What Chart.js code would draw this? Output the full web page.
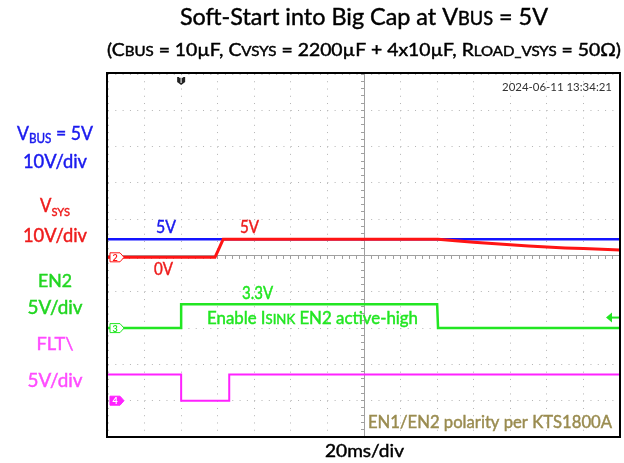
<!DOCTYPE html>
<html>
<head>
<meta charset="utf-8">
<script src="https://cdn.jsdelivr.net/npm/chart.js@4.4.1/dist/chart.umd.min.js"></script>
<style>
  html, body { margin: 0; padding: 0; background: #fff; }
  canvas { display: block; }
</style>
</head>
<body>
<canvas id="scope" width="624" height="463"></canvas>
<script>
// time in ms (20ms/div, 14 div across), levels in volts
var vbusTime = [0, 280];
var vbusVolt = [5, 5];

var vsysTime = [0, 58.5, 60.5, 63, 180.5, 190, 200, 210, 220, 230, 240, 250, 260, 270, 280];
var vsysVolt = [0, 0, 2.2, 5, 5, 4.55, 4.15, 3.8, 3.45, 3.15, 2.85, 2.6, 2.4, 2.2, 2.0];

var en2Time = [0, 40, 40, 180, 180.5, 280];
var en2Volt = [0, 0, 3.3, 3.3, 0, 0];

var fltTime = [0, 40, 40, 66.3, 66.3, 280];
var fltVolt = [3.6, 3.6, 0, 0, 3.6, 3.6];

var triggerTime = 40;
var triggerLevel = 1.45; // on EN2

var FONT = 'Lato, "Open Sans", sans-serif';

function points(t, v) {
    return t.map(function (x, i) { return { x: x, y: v[i] }; });
}

// channel axis: ground offset (div from bottom) and volts/div, 10 div tall
function chAxis(offset, perDiv) {
    return { type: 'linear', display: false, min: -offset * perDiv, max: (10 - offset) * perDiv };
}

function drawRuns(ctx, parts, x, y, size, color, width, align) {
    var total = 0;
    var widths = parts.map(function (p) {
        ctx.font = (size * (p[1] || 1)) + 'px ' + FONT;
        var w = ctx.measureText(p[0]).width;
        total += w;
        return w;
    });
    var sx = width ? width / total : 1;
    var left = align === 'center' ? x - total * sx / 2 : x;
    ctx.save();
    ctx.translate(left, y);
    ctx.scale(sx, 1);
    ctx.fillStyle = color;
    ctx.strokeStyle = color;
    ctx.lineWidth = size > 14 ? 0.45 : 0;
    ctx.textBaseline = 'alphabetic';
    var cx = 0;
    parts.forEach(function (p, i) {
        ctx.font = (size * (p[1] || 1)) + 'px ' + FONT;
        ctx.fillText(p[0], cx, p[2] || 0);
        if (size > 14) ctx.strokeText(p[0], cx, p[2] || 0);
        cx += widths[i];
    });
    ctx.restore();
}

var BLUE = '#1414ff', RED = '#ff1414', GREEN = '#22e622', PINK = '#ff22ff';

var texts = [
    // [parts, x, baseline, size, color, width, align]
    [[['Soft-Start into Big Cap at V'], ['BUS', 0.78], [' = 5V']], 180, 25, 24, '#000', 368],
    [[['(C'], ['BUS', 0.78], [' = 10µF, C'], ['VSYS', 0.78], [' = 2200µF + 4x10µF, R'], ['LOAD_VSYS', 0.78], [' = 50Ω)']], 107, 56, 18, '#000', 514],
    [[['V'], ['BUS', 0.66, 3], [' = 5V']], 55, 140, 19.5, '#1a1aee', 76, 'center'],
    [[['10V/div']], 55, 168, 18.5, '#1a1aee', 64, 'center'],
    [[['V'], ['SYS', 0.66, 4]], 55, 212, 18.5, '#ee1c1c', 30, 'center'],
    [[['10V/div']], 55, 242, 18.5, '#ee1c1c', 64, 'center'],
    [[['EN2']], 55, 287, 17.5, '#22d622', 34, 'center'],
    [[['5V/div']], 55, 314, 18.5, '#22d622', 55, 'center'],
    [[['FLT\\']], 55, 350, 17.5, '#ff4cff', 37, 'center'],
    [[['5V/div']], 55, 387, 18.5, '#ff4cff', 55, 'center'],
    [[['5V']], 156, 233, 17, '#1a1aee', 20],
    [[['5V']], 240, 233, 17, '#ee1c1c', 19],
    [[['0V']], 154, 275, 17, '#ee1c1c', 19],
    [[['3.3V']], 242, 299, 17, '#22e622', 31],
    [[['Enable I'], ['SINK', 0.78], [' EN2 active-high']], 207, 324, 17, '#22e622', 211],
    [[['EN1/EN2 polarity per KTS1800A']], 368, 428, 17, '#9a8c50', 244],
    [[['20ms/div']], 325, 457, 18, '#000', 79],
    [[['2024-06-11 13:34:21']], 502, 91, 11.5, '#333', 110]
];

function chMarker(ctx, y, label, stroke, fill, ink) {
    var x0 = 110, x1 = 120, x2 = 124, h = 4.5;
    ctx.beginPath();
    ctx.moveTo(x0, y - h);
    ctx.lineTo(x1, y - h);
    ctx.lineTo(x2, y);
    ctx.lineTo(x1, y + h);
    ctx.lineTo(x0, y + h);
    ctx.closePath();
    ctx.fillStyle = fill;
    ctx.fill();
    ctx.lineWidth = 1;
    ctx.strokeStyle = stroke;
    ctx.stroke();
    ctx.fillStyle = ink;
    ctx.font = 'bold 9px ' + FONT;
    ctx.textAlign = 'center';
    ctx.textBaseline = 'middle';
    ctx.fillText(label, 115, y + 0.5);
}

var decor = {
    id: 'decor',
    afterDatasetsDraw: function (chart) {
        var ctx = chart.ctx, a = chart.chartArea, s = chart.scales;
        ctx.save();
        // frame
        ctx.lineWidth = 2;
        ctx.strokeStyle = '#000';
        ctx.strokeRect(a.left - 1, a.top - 1, a.right - a.left + 1, a.bottom - a.top + 1);

        // channel ground markers
        chMarker(ctx, s.v2.getPixelForValue(0), '2', RED, '#fff', RED);
        chMarker(ctx, s.v3.getPixelForValue(0), '3', GREEN, '#fff', GREEN);
        chMarker(ctx, s.v4.getPixelForValue(0), '4', PINK, PINK, '#fff');

        // trigger position
        var tx = s.x.getPixelForValue(triggerTime);
        ctx.beginPath();
        ctx.moveTo(tx - 4, a.top + 3);
        ctx.lineTo(tx + 4, a.top + 3);
        ctx.lineTo(tx + 4, a.top + 8);
        ctx.lineTo(tx, a.top + 11);
        ctx.lineTo(tx - 4, a.top + 8);
        ctx.closePath();
        ctx.fillStyle = '#222';
        ctx.fill();
        ctx.fillStyle = '#fff';
        ctx.font = 'bold 7px ' + FONT;
        ctx.textAlign = 'center';
        ctx.textBaseline = 'middle';
        ctx.fillText('T', tx, a.top + 6.5);

        // trigger level arrow
        var ty = s.v3.getPixelForValue(triggerLevel);
        ctx.beginPath();
        ctx.moveTo(a.right - 14, ty);
        ctx.lineTo(a.right - 8, ty - 5);
        ctx.lineTo(a.right - 8, ty + 5);
        ctx.closePath();
        ctx.fillStyle = GREEN;
        ctx.fill();
        ctx.fillRect(a.right - 9, ty - 1, 8, 2);
        ctx.restore();

        ctx.save();
        texts.forEach(function (t) {
            drawRuns(ctx, t[0], t[1], t[2], t[3], t[4], t[5], t[6]);
        });
        ctx.restore();
    }
};

var ctx = document.getElementById('scope').getContext('2d');
var chart = new Chart(ctx, {
    type: 'line',
    data: {
        datasets: [{
            label: 'VSYS',
            data: points(vsysTime, vsysVolt),
            yAxisID: 'v2',
            borderColor: RED,
            borderWidth: 3,
            order: 0
        }, {
            label: 'VBUS',
            data: points(vbusTime, vbusVolt),
            yAxisID: 'v1',
            borderColor: BLUE,
            borderWidth: 2.5,
            order: 1
        }, {
            label: 'EN2',
            data: points(en2Time, en2Volt),
            yAxisID: 'v3',
            borderColor: GREEN,
            borderWidth: 2.5,
            order: 2
        }, {
            label: 'FLT',
            data: points(fltTime, fltVolt),
            yAxisID: 'v4',
            borderColor: PINK,
            borderWidth: 2,
            order: 3
        }]
    },
    options: {
        responsive: false,
        animation: false,
        events: [],
        layout: {
            padding: { left: 108, top: 74, right: 4, bottom: 26 }
        },
        elements: {
            line: { tension: 0, fill: false },
            point: { radius: 0 }
        },
        plugins: {
            legend: { display: false },
            tooltip: { enabled: false }
        },
        scales: {
            x: {
                type: 'linear', min: 0, max: 280,
                ticks: { display: false, stepSize: 20 },
                grid: { color: '#b4b4b4', drawTicks: false },
                border: { display: false, dash: [1, 6.26] }
            },
            y: {
                type: 'linear', min: 0, max: 10,
                ticks: { display: false, stepSize: 1 },
                grid: { color: '#b4b4b4', drawTicks: false },
                border: { display: false, dash: [1, 6.31] }
            },
            xc: {
                type: 'linear', axis: 'x', position: { y: 5 }, min: 0, max: 280,
                ticks: { display: false, stepSize: 4 },
                grid: { drawOnChartArea: false, drawTicks: true, tickLength: 3, tickColor: '#a0a0a0' },
                border: { display: true, color: '#a0a0a0', width: 1, dash: [1, 1.6] }
            },
            yc: {
                type: 'linear', axis: 'y', position: { x: 140 }, min: 0, max: 10,
                ticks: { display: false, stepSize: 0.2 },
                grid: { drawOnChartArea: false, drawTicks: true, tickLength: 3, tickColor: '#a0a0a0' },
                border: { display: true, color: '#a0a0a0', width: 1, dash: [1, 1.6] }
            },
            v1: chAxis(4.95, 10),
            v2: chAxis(4.95, 10),
            v3: chAxis(3, 5),
            v4: chAxis(1, 5)
        }
    },
    plugins: [decor]
});
</script>
</body>
</html>
